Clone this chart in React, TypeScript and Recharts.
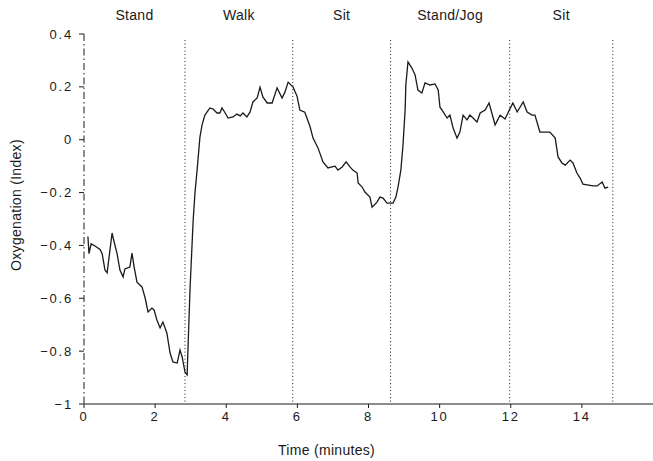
import React from 'react';
import { LineChart, Line, XAxis, YAxis, ReferenceLine } from 'recharts';

// elapsed time, minutes
const times = [
  0.11, 0.14, 0.2, 0.31, 0.45, 0.51, 0.59, 0.65, 0.79, 0.82, 0.93, 1.01, 1.1, 1.15, 1.29, 1.35, 1.41,
  1.49, 1.63, 1.72, 1.8, 1.91, 1.97, 2.05, 2.14, 2.22, 2.33, 2.42, 2.5, 2.62, 2.7, 2.76, 2.84, 2.9,
  2.92, 2.98, 3.07, 3.12, 3.18, 3.26, 3.32, 3.4, 3.54, 3.63, 3.74, 3.82, 3.88, 3.97, 4.05, 4.19, 4.3,
  4.39, 4.47, 4.58, 4.67, 4.75, 4.87, 4.95, 5.03, 5.15, 5.29, 5.43, 5.57, 5.65, 5.74, 5.88, 5.99,
  6.07, 6.21, 6.36, 6.44, 6.58, 6.72, 6.86, 6.97, 7.06, 7.14, 7.26, 7.37, 7.48, 7.56, 7.68, 7.71,
  7.82, 7.9, 8.04, 8.1, 8.24, 8.32, 8.41, 8.52, 8.61, 8.69, 8.77, 8.83, 8.91, 8.97, 9.03, 9.05, 9.11,
  9.22, 9.31, 9.39, 9.5, 9.59, 9.73, 9.87, 9.96, 10.01, 10.1, 10.21, 10.29, 10.38, 10.49, 10.57,
  10.66, 10.77, 10.85, 10.94, 11.05, 11.14, 11.28, 11.39, 11.56, 11.7, 11.84, 11.92, 12.06, 12.18,
  12.35, 12.46, 12.6, 12.68, 12.82, 12.91, 13.1, 13.25, 13.33, 13.44, 13.53, 13.67, 13.75, 13.86,
  13.95, 14.03, 14.15, 14.31, 14.43, 14.57, 14.65, 14.74,
];

// oxygenation index at each time
const oxygenation = [
  -0.366, -0.431, -0.394, -0.402, -0.415, -0.431, -0.493, -0.504, -0.353, -0.372, -0.431, -0.493,
  -0.519, -0.489, -0.482, -0.429, -0.482, -0.539, -0.557, -0.599, -0.652, -0.637, -0.644, -0.682,
  -0.712, -0.69, -0.731, -0.807, -0.841, -0.845, -0.796, -0.822, -0.879, -0.89, -0.807, -0.569,
  -0.304, -0.202, -0.115, 0.01, 0.056, 0.093, 0.12, 0.116, 0.101, 0.101, 0.12, 0.101, 0.082, 0.086,
  0.097, 0.09, 0.101, 0.086, 0.105, 0.143, 0.158, 0.199, 0.162, 0.139, 0.139, 0.196, 0.158, 0.18,
  0.218, 0.199, 0.165, 0.112, 0.104, 0.048, 0.006, -0.031, -0.084, -0.107, -0.103, -0.1, -0.115,
  -0.103, -0.084, -0.103, -0.115, -0.126, -0.164, -0.179, -0.198, -0.217, -0.255, -0.236, -0.217,
  -0.221, -0.24, -0.24, -0.24, -0.217, -0.179, -0.115, -0.02, 0.112, 0.207, 0.294, 0.271, 0.245,
  0.188, 0.177, 0.215, 0.207, 0.211, 0.188, 0.123, 0.105, 0.082, 0.093, 0.044, 0.006, 0.029, 0.093,
  0.075, 0.093, 0.082, 0.067, 0.101, 0.112, 0.139, 0.056, 0.093, 0.078, 0.101, 0.139, 0.105, 0.143,
  0.105, 0.093, 0.093, 0.029, 0.029, 0.029, 0.006, -0.065, -0.088, -0.096, -0.077, -0.088, -0.126,
  -0.145, -0.168, -0.171, -0.175, -0.175, -0.16, -0.183, -0.179,
];

const phaseNames = ['Stand', 'Walk', 'Sit', 'Stand/Jog', 'Sit'];
// phase boundaries, minutes
const phaseEdges = [0, 2.84, 5.87, 8.62, 11.97, 14.87];

const xTicks = [0, 2, 4, 6, 8, 10, 12, 14];
const yTicks = [0.4, 0.2, 0, -0.2, -0.4, -0.6, -0.8, -1];

const data = times.map((t, i) => ({ t, v: oxygenation[i] }));

const font = 'Liberation Sans, Arial, Helvetica, sans-serif';
const ink = '#1a1a1a';

const fmtY = (v: number) => {
  if (v === 0) return '0';
  const s = Math.abs(v) === 1 ? '1' : Math.abs(v).toFixed(1);
  return v < 0 ? '\u2212' + s : s;
};

const tickStyle = { fontSize: 13, fill: ink, fontFamily: font, letterSpacing: 1.8 };
const titleStyle = { fontSize: 14, fill: ink, fontFamily: font, letterSpacing: 0.3 };

const YTitle = (props: any) => {
  const vb = props.viewBox || { x: 24, y: 34, width: 60, height: 370 };
  const x = vb.x - 8;
  const y = vb.y + vb.height / 2 - 14;
  return (
    <text x={x} y={y} transform={`rotate(-90 ${x} ${y})`} textAnchor="middle" dominantBaseline="central" style={titleStyle}>
      Oxygenation (Index)
    </text>
  );
};

const XTitle = (props: any) => {
  const vb = props.viewBox || { x: 84, y: 404, width: 569, height: 57 };
  const x = vb.x + vb.width / 2 - 42;
  const y = vb.y + 46;
  return (
    <text x={x} y={y} textAnchor="middle" dominantBaseline="central" style={titleStyle}>
      Time (minutes)
    </text>
  );
};

export default function App() {
  return (
    <div style={{ position: 'absolute', left: 0, top: 0, background: '#fff' }}>
      <LineChart width={653} height={461} data={data} margin={{ top: 34, right: 0, bottom: 0, left: 24 }}>
        <XAxis
          dataKey="t"
          type="number"
          domain={[0, 16]}
          ticks={xTicks}
          allowDataOverflow
          height={57}
          tickSize={4}
          tickMargin={4}
          axisLine={{ stroke: ink, strokeWidth: 1.2 }}
          tickLine={{ stroke: ink }}
          tick={tickStyle}
          label={{ content: XTitle }}
        />
        <YAxis
          type="number"
          domain={[-1, 0.4]}
          ticks={yTicks}
          allowDataOverflow
          width={60}
          tickSize={5}
          tickMargin={6}
          tickFormatter={fmtY}
          axisLine={{ stroke: ink, strokeDasharray: '7 3 1.5 3' }}
          tickLine={{ stroke: ink }}
          tick={tickStyle}
          label={{ content: YTitle }}
        />
        {phaseEdges.slice(1).map((e, i) => (
          <ReferenceLine
            key={'edge' + i}
            segment={[{ x: e, y: 0.377 }, { x: e, y: -1 }]}
            stroke={ink}
            strokeDasharray="1 2.5"
          />
        ))}
        {phaseNames.map((name, i) => (
          <ReferenceLine
            key={'phase' + i}
            x={(phaseEdges[i] + phaseEdges[i + 1]) / 2}
            stroke="none"
            label={{ value: name, position: 'top', offset: 14, style: titleStyle }}
          />
        ))}
        <Line
          type="linear"
          dataKey="v"
          stroke={ink}
          strokeWidth={1.3}
          dot={false}
          isAnimationActive={false}
        />
      </LineChart>
    </div>
  );
}
